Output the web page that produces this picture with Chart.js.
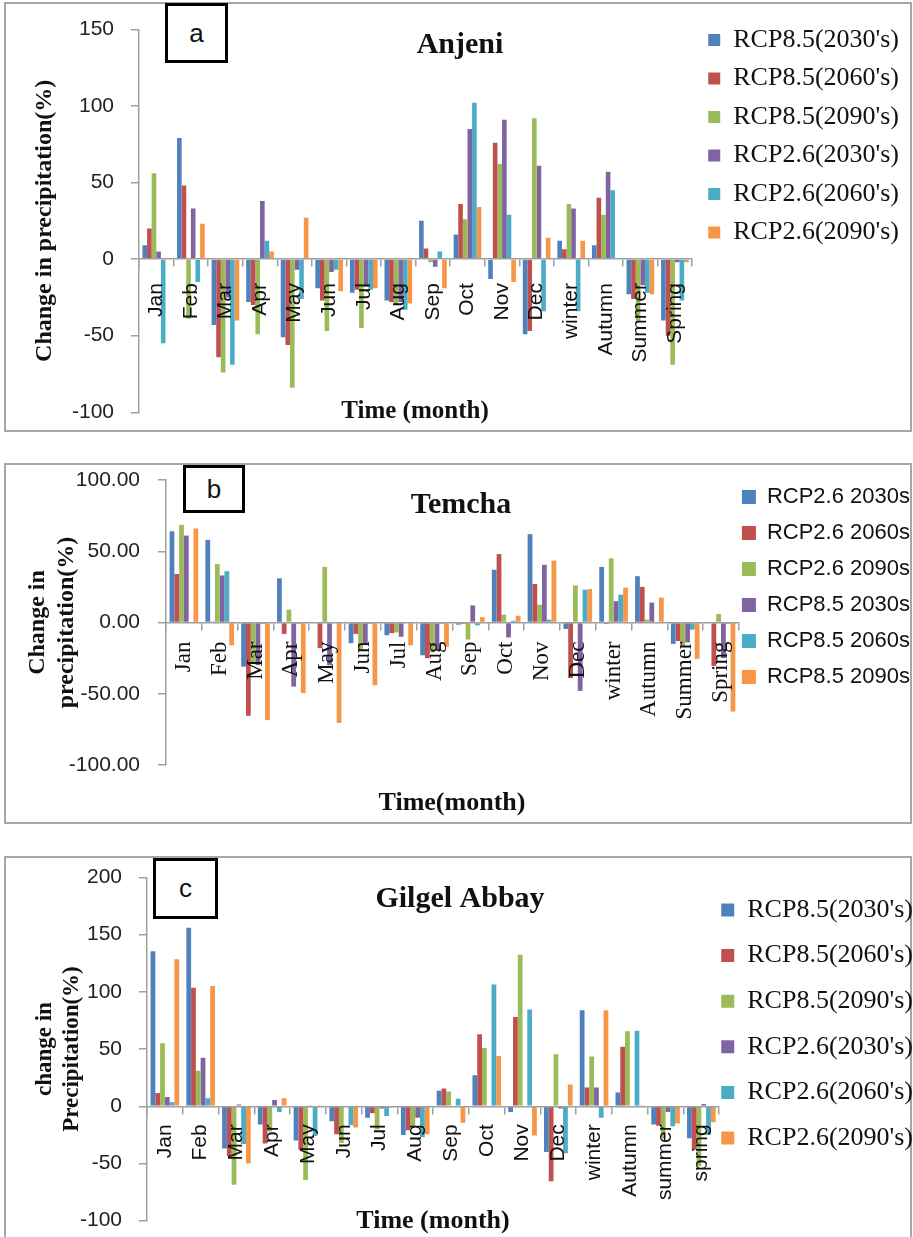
<!DOCTYPE html>
<html>
<head>
<meta charset="utf-8">
<script src="https://cdn.jsdelivr.net/npm/chart.js@4.4.0/dist/chart.umd.min.js"></script>
<style>
  body { margin: 0; background: #fff; width: 913px; height: 1237px; position: relative; overflow: hidden; }
  .frame { position: absolute; left: 4px; width: 908px; border: 2px solid #a6a6a6; box-sizing: border-box; }
  canvas { position: absolute; left: 5px; }
  .tag { position: absolute; border: 3px solid #000; box-sizing: border-box; background: #fff;
         font-family: "Liberation Sans", Arial, sans-serif; font-size: 26px; color: #111;
         display: flex; align-items: center; justify-content: center; z-index: 5; }
</style>
</head>
<body>
<div class="frame" style="top:2px;height:430px"></div>
<div class="frame" style="top:463px;height:361px"></div>
<div class="frame" style="top:856px;height:400px"></div>

<canvas id="anjeniChart" width="940" height="428" style="top:3px"></canvas>
<canvas id="temchaChart" width="940" height="359" style="top:464px"></canvas>
<canvas id="gilgelChart" width="940" height="380" style="top:857px"></canvas>

<div class="tag" style="left:165px;top:3px;width:63px;height:60px">a</div>
<div class="tag" style="left:183px;top:465px;width:62px;height:48px">b</div>
<div class="tag" style="left:153px;top:858px;width:65px;height:61px">c</div>

<script>
// categories
const monthsA = ['Jan', 'Feb', 'Mar', 'Apr', 'May', 'Jun', 'Jul', 'Aug', 'Sep', 'Oct', 'Nov', 'Dec', 'winter', 'Autumn', 'Summer', 'Spring'];
const monthsB = ['Jan', 'Feb', 'Mar', 'Apr', 'May', 'Jun', 'Jul', 'Aug', 'Sep', 'Oct', 'Nov', 'Dec', 'winter', 'Autumn', 'Summer', 'Spring'];
const monthsC = ['Jan', 'Feb', 'Mar', 'Apr', 'May', 'Jun', 'Jul', 'Aug', 'Sep', 'Oct', 'Nov', 'Dec', 'winter', 'Autumn', 'summer', 'spring'];

// series names
const namesA = ["RCP8.5(2030's)", "RCP8.5(2060's)", "RCP8.5(2090's)", "RCP2.6(2030's)", "RCP2.6(2060's)", "RCP2.6(2090's)"];
const namesB = ['RCP2.6 2030s', 'RCP2.6 2060s', 'RCP2.6 2090s', 'RCP8.5 2030s', 'RCP8.5 2060s', 'RCP8.5 2090s'];
const namesC = ["RCP8.5(2030's)", "RCP8.5(2060's)", "RCP8.5(2090's)", "RCP2.6(2030's)", "RCP2.6(2060's)", "RCP2.6(2090's)"];

// a - Anjeni
const anjeni85_2030 = [9, 79, -43, -28, -51, -19, -22, -27, 25, 16, -13, -49, 12, 9, -23, -40];
const anjeni85_2060 = [20, 48, -64, -30, -56, -27, -20, -28, 7, 36, 76, -47, 6.5, 40, -26, -50];
const anjeni85_2090 = [56, -39, -74, -49, -84, -47, -45, -30, -2, 26, 62, 92, 36, 29, -41, -69];
const anjeni26_2030 = [5, 33, -25, 38, -7, -8.5, -18, -28, -5, 85, 91, 61, 33, 57, -17, -2];
const anjeni26_2060 = [-55, -15, -69, 12, -26, -7, -20, -33, 5, 102, 29, -34, -34, 45, -22, -27];
const anjeni26_2090 = [0, 23, -40, 5, 27, -21, -19, -29, -19, 34, -15, 14, 12, 0, -23, -2];

// b - Temcha
const temcha26_2030 = [64, 58, -31, 31, -0.5, -14.5, -9, -23, -1.5, 37, 62, -4.5, 39, 32.5, -15, 0];
const temcha26_2060 = [34, 0.3, -65.5, -8, -18, -8, -7.5, -25, -1, 48, 27, -39, -1, 25, -13, -30.5];
const temcha26_2090 = [68.5, 41, -28, 9, 39, -19.5, -7, -21, -12, 5.5, 12.5, 26, 45, 2, -16.5, 6];
const temcha85_2030 = [61, 33, -30, -45, -30, -15.5, -10, -20, 12, -10.5, 40.5, -48, 15, 14, -14, -25];
const temcha85_2060 = [0, 36, -1, -1, 0.5, -1, 0, -1, -2, 1.2, 2, 23, 19.5, 0, -5, -1];
const temcha85_2090 = [66, -16, -68.5, -49.5, -70.5, -44, -16, -17, 3.7, 4.7, 43.5, 23.5, 24.5, 17.5, -25.5, -62.5];

// c - Gilgel Abbay
const gilgel85_2030 = [135.5, 156, -37, -16, -30, -13, -10, -25, 13.5, 27, -5, -40, 84, 12, -16, -28];
const gilgel85_2060 = [11.5, 103.5, -43.5, -32.5, -38, -24.5, -6, -21, 15.5, 63, 78, -65.5, 16.5, 52, -17, -38];
const gilgel85_2090 = [55, 31, -68.5, -22, -64.5, -32, -20, -18, 13, 51, 132.5, 45.5, 43.5, 65.5, -28, -52.5];
const gilgel26_2030 = [8, 42.5, 1.5, 5.5, 0.5, 0, -2, -10, 0, 0, 0, -2, 16.5, 0, -5, 2];
const gilgel26_2060 = [3.5, 7, -33, -5, -26, -16.5, -8.5, -27, 6.5, 106.5, 84.5, -41, -10, 66, -17.5, -25];
const gilgel26_2090 = [128.5, 105, -50, 7, 0.5, -18.5, -1, -24.5, -14.5, 44, -25.5, 19, 84, 0.5, -15, -14];

const colors = ['#4F81BD', '#C0504D', '#9BBB59', '#8064A2', '#4BACC6', '#F79646'];

// shift the legend column sideways after layout
const legendNudge = {
    id: 'legendNudge',
    afterLayout(chart, args, opts) {
        if (chart.legend && opts.dx) {
            chart.legend.left += opts.dx;
            chart.legend.right += opts.dx;
        }
    }
};

// chart title and x-axis title drawn over the plot like in Excel
const overlayText = {
    id: 'overlayText',
    afterDraw(chart, args, opts) {
        const ctx = chart.ctx;
        ctx.save();
        ctx.fillStyle = '#111';
        ctx.textAlign = 'center';
        ctx.textBaseline = 'alphabetic';
        (opts.items || []).forEach(function (t) {
            ctx.font = t.font;
            ctx.fillText(t.text, t.x, t.y);
        });
        ctx.restore();
    }
};

function drawPanel(p) {
    const ctx = document.getElementById(p.id).getContext('2d');
    return new Chart(ctx, {
        type: 'bar',
        data: {
            labels: p.labels,
            datasets: p.series.map(function (s, i) {
                return {
                    label: p.names[i],
                    data: s,
                    backgroundColor: colors[i],
                    borderWidth: 0,
                    categoryPercentage: 0.8,
                    barPercentage: 1.0
                };
            })
        },
        options: {
            responsive: false,
            animation: false,
            devicePixelRatio: 1,
            layout: { padding: { left: 0, top: p.padTop, right: p.padRight, bottom: p.padBottom } },
            plugins: {
                legend: {
                    position: 'right',
                    align: 'start',
                    labels: {
                        font: p.legendFont,
                        color: '#111',
                        boxWidth: p.box,
                        boxHeight: p.box,
                        padding: p.legendPad
                    }
                },
                tooltip: { enabled: false },
                legendNudge: { dx: p.legendDx },
                overlayText: { items: p.texts }
            },
            scales: {
                x: {
                    position: { y: 0 },
                    grid: { offset: true, drawOnChartArea: false, tickLength: 7, color: '#a0a0a0', lineWidth: 1.5, z: 1 },
                    border: { color: '#a0a0a0', width: 1.5, z: 1 },
                    ticks: {
                        minRotation: 90, maxRotation: 90, autoSkip: false,
                        padding: p.xPad, font: p.xFont, color: '#111', z: 1
                    }
                },
                y: {
                    min: p.yMin,
                    max: p.yMax,
                    ticks: {
                        stepSize: 50,
                        padding: p.yPad,
                        font: { family: '"Liberation Sans", Arial, sans-serif', size: 21 },
                        color: '#222',
                        callback: p.yFormat
                    },
                    grid: { drawOnChartArea: false, tickLength: 8, color: '#a0a0a0', lineWidth: 1.5 },
                    border: { color: '#a0a0a0', width: 1.5 },
                    title: {
                        display: true,
                        text: p.yTitle,
                        font: p.yTitleFont,
                        color: '#111',
                        padding: { top: p.yTitlePad, bottom: 0 }
                    },
                    afterFit: function (scale) {
                        scale.width = p.left;
                        scale.paddingTop = p.top;
                        scale.paddingBottom = 0;
                    }
                }
            }
        },
        plugins: [legendNudge, overlayText]
    });
}

const serif = '"Liberation Serif", "Times New Roman", serif';
const sans = '"Liberation Sans", Arial, sans-serif';

drawPanel({
    id: 'anjeniChart',
    labels: monthsA,
    names: namesA,
    series: [anjeni85_2030, anjeni85_2060, anjeni85_2090, anjeni26_2030, anjeni26_2060, anjeni26_2090],
    yMin: -100, yMax: 150,
    yFormat: function (v) { return v; },
    padTop: 11.5, padBottom: 18.7, padRight: 39.5,
    left: 134, top: 26.3,
    legendFont: { family: serif, size: 26 }, box: 12, legendPad: 12.5, legendDx: 3.5,
    xPad: 17, xFont: { family: sans, size: 21 }, yPad: 17,
    yTitle: 'Change in precipitation(%)',
    yTitleFont: { family: serif, size: 24, weight: 'bold' }, yTitlePad: 25.6,
    texts: [
        { text: 'Anjeni', x: 455, y: 50, font: 'bold 30px ' + serif },
        { text: 'Time (month)', x: 410, y: 415, font: 'bold 25px ' + serif }
    ]
});

drawPanel({
    id: 'temchaChart',
    labels: monthsB,
    names: namesB,
    series: [temcha26_2030, temcha26_2060, temcha26_2090, temcha85_2030, temcha85_2060, temcha85_2090],
    yMin: -100, yMax: 100,
    yFormat: function (v) { return Number(v).toFixed(2); },
    padTop: 8, padBottom: 58, padRight: 14,
    left: 161, top: 16,
    legendFont: { family: sans, size: 22 }, box: 14, legendPad: 14, legendDx: -11,
    xPad: 12, xFont: { family: serif, size: 23 }, yPad: 18,
    yTitle: ['Change in', 'precipitation(%)'],
    yTitleFont: { family: serif, size: 24, weight: 'bold', lineHeight: 1.2 }, yTitlePad: 18.6,
    texts: [
        { text: 'Temcha', x: 456, y: 49, font: 'bold 30px ' + serif },
        { text: 'Time(month)', x: 447, y: 346, font: 'bold 26px ' + serif }
    ]
});

drawPanel({
    id: 'gilgelChart',
    labels: monthsC,
    names: namesC,
    series: [gilgel85_2030, gilgel85_2060, gilgel85_2090, gilgel26_2030, gilgel26_2060, gilgel26_2090],
    yMin: -100, yMax: 200,
    yFormat: function (v) { return v; },
    padTop: 20.4, padBottom: 16.3, padRight: 4.4,
    left: 142, top: 20.4,
    legendFont: { family: serif, size: 26 }, box: 13, legendPad: 19.6, legendDx: -17.6,
    xPad: 11, xFont: { family: sans, size: 21 }, yPad: 17,
    yTitle: ['change in', 'Precipitation(%)'],
    yTitleFont: { family: serif, size: 23, weight: 'bold', lineHeight: 1.174 }, yTitlePad: 26.5,
    texts: [
        { text: 'Gilgel Abbay', x: 455, y: 50, font: 'bold 30px ' + serif },
        { text: 'Time (month)', x: 428, y: 371, font: 'bold 26px ' + serif }
    ]
});
</script>
</body>
</html>
